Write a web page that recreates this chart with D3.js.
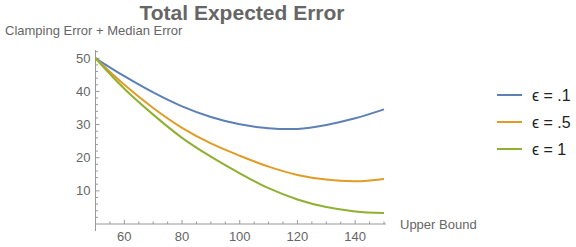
<!DOCTYPE html>
<html>
<head>
<meta charset="utf-8">
<script src="https://cdn.jsdelivr.net/npm/d3@7"></script>
<style>
body { margin: 0; background: #fff; }
svg text { font-family: "Liberation Sans", Arial, sans-serif; }
</style>
</head>
<body>
<div id="graph"></div>
<script>
// upper bound values
var bounds = [50, 60, 70, 80, 90, 100, 110, 120, 130, 140, 150];
// total expected error for each epsilon
var err01 = [50, 44.6, 39.7, 35.5, 32.3, 30.1, 28.9, 28.7, 29.9, 31.9, 34.6];
var err05 = [50, 42.0, 35.0, 29.0, 24.3, 20.6, 17.3, 14.8, 13.4, 12.9, 13.6];
var err1  = [50, 40.8, 33.0, 26.0, 20.3, 15.3, 10.8, 7.4, 5.1, 3.8, 3.3];
var seriesNames = ["\u03f5 = .1", "\u03f5 = .5", "\u03f5 = 1"];
var colors = ["#5e81b5", "#e19c24", "#8fb032"];
var xTicks = [60, 80, 100, 120, 140];
var yTicks = [10, 20, 30, 40, 50];

var width = 576, height = 247;
var svg = d3.select("#graph").append("svg")
	.attr("width", width)
	.attr("height", height);

var x = d3.scaleLinear().domain([50, 150]).range([95.5, 384]);
var y = d3.scaleLinear().domain([0, 52.5]).range([224, 50]);

var axisColor = "#999";
var textColor = "#666";

// title
svg.append("text")
	.attr("x", 242).attr("y", 20)
	.attr("text-anchor", "middle")
	.attr("font-size", "21px")
	.attr("font-weight", "bold")
	.attr("fill", "#666")
	.text("Total Expected Error");

svg.append("text")
	.attr("x", 5).attr("y", 35)
	.attr("font-size", "13px")
	.attr("fill", textColor)
	.text("Clamping Error + Median Error");

// axes lines
svg.append("line")
	.attr("x1", x(50)).attr("x2", x(150) + 2)
	.attr("y1", y(0)).attr("y2", y(0))
	.attr("stroke", axisColor).attr("stroke-width", 1);
svg.append("line")
	.attr("x1", x(50)).attr("x2", x(50))
	.attr("y1", y(52.5)).attr("y2", y(0) + 7)
	.attr("stroke", axisColor).attr("stroke-width", 1);

// x ticks (major every 20, minor every 5)
d3.range(50, 151, 5).forEach(function(v) {
	var major = xTicks.indexOf(v) >= 0;
	svg.append("line")
		.attr("x1", x(v)).attr("x2", x(v))
		.attr("y1", y(0)).attr("y2", y(0) - (major ? 4 : 2.5))
		.attr("stroke", axisColor);
});
xTicks.forEach(function(v) {
	svg.append("text")
		.attr("x", x(v)).attr("y", 241)
		.attr("text-anchor", "middle")
		.attr("font-size", "13px")
		.attr("fill", textColor)
		.text(v);
});

// y ticks (major every 10, minor every 2)
d3.range(2, 53, 2).forEach(function(v) {
	var major = yTicks.indexOf(v) >= 0;
	svg.append("line")
		.attr("x1", x(50)).attr("x2", x(50) + (major ? 4 : 2.5))
		.attr("y1", y(v)).attr("y2", y(v))
		.attr("stroke", axisColor);
});
yTicks.forEach(function(v) {
	svg.append("text")
		.attr("x", x(50) - 5).attr("y", y(v) + 4.5)
		.attr("text-anchor", "end")
		.attr("font-size", "13px")
		.attr("fill", textColor)
		.text(v);
});

svg.append("text")
	.attr("x", 400).attr("y", 229)
	.attr("font-size", "13px")
	.attr("fill", textColor)
	.text("Upper Bound");

// curves
var line = d3.line()
	.x(function(d) { return x(d[0]); })
	.y(function(d) { return y(d[1]); })
	.curve(d3.curveCatmullRom.alpha(0.5));

[err01, err05, err1].forEach(function(vals, i) {
	svg.append("path")
		.datum(bounds.map(function(b, j) { return [b, vals[j]]; }))
		.attr("d", line)
		.attr("fill", "none")
		.attr("stroke", colors[i])
		.attr("stroke-width", 2);
});

// legend
var legendY = [95, 122, 149];
seriesNames.forEach(function(name, i) {
	svg.append("line")
		.attr("x1", 497).attr("x2", 522)
		.attr("y1", legendY[i]).attr("y2", legendY[i])
		.attr("stroke", colors[i]).attr("stroke-width", 2);
	svg.append("text")
		.attr("x", 532).attr("y", legendY[i] + 6)
		.attr("font-size", "16px")
		.attr("fill", "#222")
		.text(name);
});
</script>
</body>
</html>
